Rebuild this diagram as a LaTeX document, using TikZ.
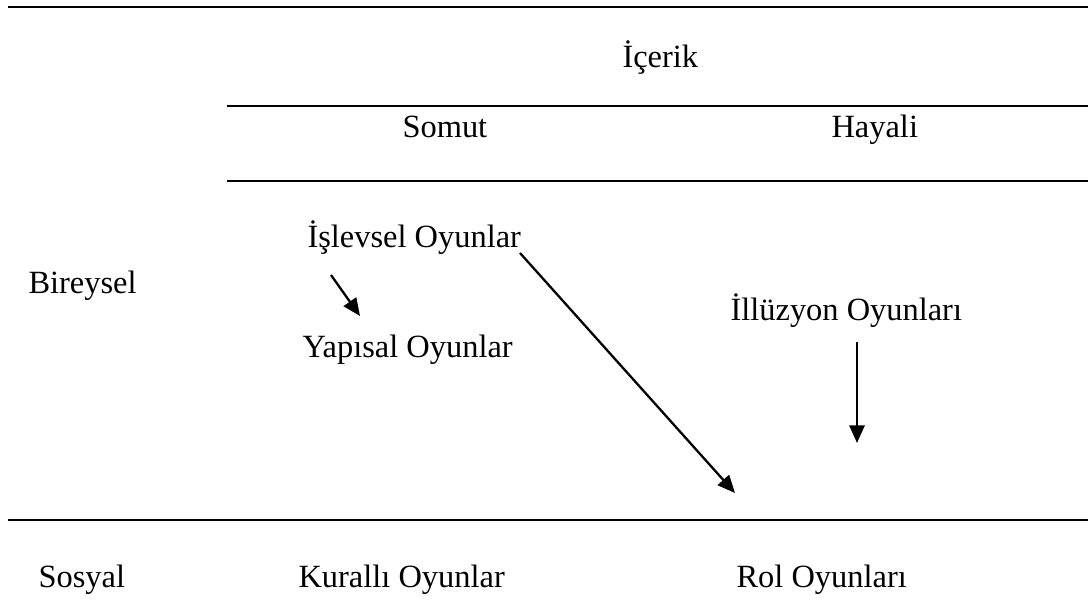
\documentclass[tikz,border=0pt]{standalone}
\usepackage{fontspec}
\setmainfont{Liberation Serif}
\usetikzlibrary{arrows.meta}
\begin{document}
\begin{tikzpicture}[x=0.37pt, y=-0.37pt, font=\fontsize{12}{14}\selectfont,
    rule/.style={line width=0.9pt},
    txt/.style={anchor=base west, inner sep=0pt},
    link/.style={line width=0.85pt, -{Triangle[length=6.5pt, width=5.6pt]}}]
  \useasboundingbox (0, 0) rectangle (1088, 606);
  \draw[rule] (8, 7) -- (1088, 7) (227, 106) -- (1088, 106)
  (227, 181) -- (1088, 181) (8, 520) -- (1088, 520);
  \node[txt] (icerik) at (622, 67) {İçerik};
  \node[txt] (somut) at (402, 137) {Somut};
  \node[txt] (hayali) at (831, 137) {Hayali};
  \node[txt] (bireysel) at (28, 293) {Bireysel};
  \node[txt] (islevsel) at (307, 247) {İşlevsel Oyunlar};
  \node[txt] (yapisal) at (302, 357) {Yapısal Oyunlar};
  \node[txt] (illuzyon) at (730, 320) {İllüzyon Oyunları};
  \node[txt] (sosyal) at (38, 587) {Sosyal};
  \node[txt] (kuralli) at (298, 587) {Kurallı Oyunlar};
  \node[txt] (rol) at (736, 587) {Rol Oyunları};
  \coordinate (islevsel-a) at (331, 275);
  \coordinate (yapisal-in) at (360, 316);
  \coordinate (islevsel-b) at (520, 253);
  \coordinate (rol-in) at (735, 493);
  \coordinate (illuzyon-out) at (857, 342);
  \coordinate (illuzyon-end) at (857, 443);
  \draw[link] (islevsel-a) -- (yapisal-in);
  \draw[link] (islevsel-b) -- (rol-in);
  \draw[link] (illuzyon-out) -- (illuzyon-end);
\end{tikzpicture}
\end{document}
